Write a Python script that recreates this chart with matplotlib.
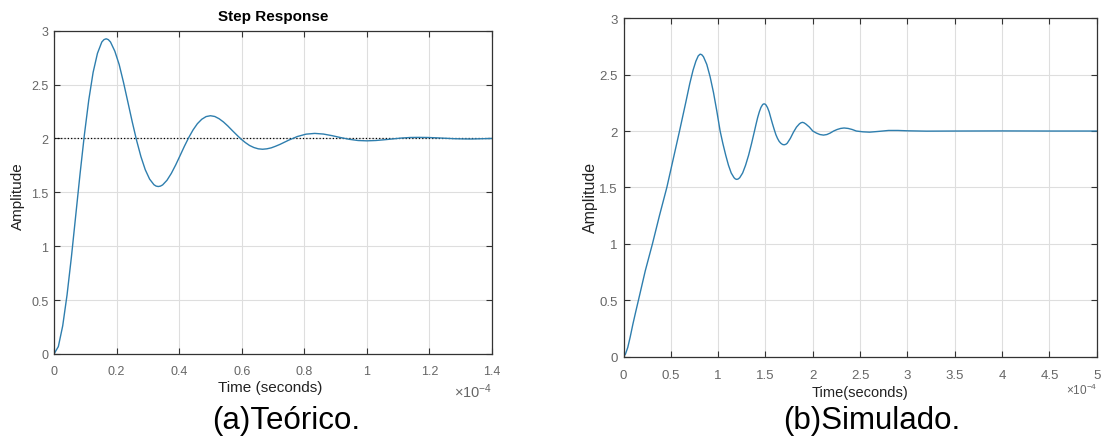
import matplotlib
matplotlib.use("Agg")
import matplotlib.pyplot as plt
from matplotlib import font_manager
from matplotlib.ticker import FuncFormatter, MultipleLocator

# time axis in units of 1e-4 s
t_theo = [0, .0139, .0278, .0417, .0556, .0694, .0833, .0972, .1111, .125,
          .1389, .1528, .1597, .1667, .1736, .1806, .1944, .2083, .2222, .2361,
          .25, .2639, .2778, .2917, .3056, .3194, .3264, .3333, .3403, .3472,
          .3611, .375, .3889, .4028, .4167, .4306, .4444, .4583, .4722, .4861,
          .5, .5139, .5278, .5417, .5556, .5694, .5833, .5972, .6111, .625,
          .6389, .6528, .6667, .6806, .6944, .7083, .7222, .75, .7778, .8056,
          .8333, .8611, .8889, .9167, .9444, .9722, 1.0, 1.0278, 1.0556, 1.0833,
          1.1111, 1.1389, 1.1667, 1.1944, 1.2222, 1.25, 1.2778, 1.3056, 1.3333,
          1.3611, 1.4]
y_theo = [0, .069, .261, .548, .899, 1.284, 1.672, 2.036, 2.356, 2.613,
          2.79, 2.895, 2.917, 2.925, 2.917, 2.895, 2.81, 2.686, 2.52, 2.338,
          2.155, 1.983, 1.832, 1.71, 1.623, 1.571, 1.558, 1.554, 1.558, 1.569,
          1.612, 1.676, 1.754, 1.84, 1.927, 2.008, 2.079, 2.137, 2.178, 2.203,
          2.211, 2.204, 2.183, 2.153, 2.116, 2.075, 2.035, 1.996, 1.963, 1.935,
          1.916, 1.904, 1.9, 1.904, 1.913, 1.928, 1.945, 1.984, 2.018, 2.04,
          2.047, 2.041, 2.026, 2.008, 1.992, 1.981, 1.978, 1.981, 1.988, 1.996,
          2.004, 2.009, 2.01, 2.009, 2.006, 2.002, 1.998, 1.996, 1.995, 1.997,
          2.0]
final_value = 2.0

t_sim = [0, .02, .045, .07, .10, .13, .158, .23, .306, .38,
         .458, .525, .592, .657, .70, .735, .765, .79, .81, .827,
         .845, .88, .915, .951, .986, 1.021, 1.05, 1.08, 1.109, 1.138,
         1.168, 1.182, 1.197, 1.212, 1.228, 1.259, 1.29, 1.322, 1.353, 1.384,
         1.401, 1.418, 1.435, 1.452, 1.469, 1.477, 1.486, 1.495, 1.504, 1.521,
         1.539, 1.557, 1.574, 1.592, 1.61, 1.627, 1.645, 1.662, 1.68, 1.697,
         1.715, 1.73, 1.763, 1.796, 1.828, 1.859, 1.875, 1.891, 1.907, 1.927,
         1.964, 2.0, 2.038, 2.075, 2.113, 2.149, 2.184, 2.22, 2.257, 2.294,
         2.331, 2.374, 2.417, 2.46, 2.53, 2.6, 2.7, 2.8, 2.9, 3.0,
         3.2, 3.5, 4.0, 4.5, 5.0]
y_sim = [0, .02, .08, .17, .29, .40, .5, .76, 1.0, 1.25,
         1.5, 1.75, 2.0, 2.25, 2.42, 2.54, 2.62, 2.667, 2.682, 2.677,
         2.659, 2.591, 2.482, 2.341, 2.177, 2.0, 1.889, 1.786, 1.697, 1.628,
         1.586, 1.575, 1.571, 1.575, 1.586, 1.628, 1.697, 1.786, 1.889, 2.0,
         2.062, 2.121, 2.17, 2.209, 2.233, 2.239, 2.241, 2.239, 2.233, 2.209,
         2.17, 2.115, 2.065, 2.015, 1.968, 1.935, 1.908, 1.892, 1.881, 1.878,
         1.882, 1.892, 1.935, 1.99, 2.035, 2.064, 2.073, 2.077, 2.073, 2.062,
         2.035, 2.0, 1.982, 1.969, 1.964, 1.969, 1.982, 2.0, 2.0135, 2.023,
         2.027, 2.023, 2.0135, 2.0, 1.993, 1.99, 1.997, 2.005, 2.005, 2.002,
         1.999, 2.0, 2.001, 2.0, 2.0]

installed = {f.name for f in font_manager.fontManager.ttflist}
base_font = "Liberation Sans"
narrow_font = "Liberation Sans Narrow" if "Liberation Sans Narrow" in installed else base_font

plt.rcParams["font.family"] = [base_font, "DejaVu Sans"]
plt.rcParams["mathtext.fontset"] = "custom"
plt.rcParams["mathtext.rm"] = base_font

W, H = 1102, 439
fig = plt.figure(figsize=(W / 100, H / 100), dpi=100)

line_col = "#2e7eae"
tick_col = "#666666"
grid_col = "#dedede"


def add_px_axes(x0, y0, x1, y1):
    return fig.add_axes([x0 / W, 1 - y1 / H, (x1 - x0) / W, (y1 - y0) / H])


def matlab_style(ax, xmax, xstep, family, size, xpad):
    ax.set_xlim(0, xmax)
    ax.set_ylim(0, 3)
    ax.xaxis.set_major_locator(MultipleLocator(xstep))
    ax.yaxis.set_major_locator(MultipleLocator(0.5))
    fmt = FuncFormatter(lambda v, p: "%g" % round(v, 3))
    ax.xaxis.set_major_formatter(fmt)
    ax.yaxis.set_major_formatter(fmt)
    ax.tick_params(direction="in", length=4, width=0.8, top=True, right=True,
                   colors="#333333", labelcolor=tick_col, labelsize=size)
    ax.tick_params(axis="x", pad=xpad)
    ax.tick_params(axis="y", pad=4)
    for lab in ax.get_xticklabels() + ax.get_yticklabels():
        lab.set_family(family)
    ax.grid(True, color=grid_col, linewidth=0.8)
    ax.set_axisbelow(True)
    for sp in ax.spines.values():
        sp.set_color("#333333")
        sp.set_linewidth(0.9)


# (a) theoretical step response
ax1 = add_px_axes(54, 31.7, 492, 355)
matlab_style(ax1, 1.4, 0.2, base_font, 9, 8)
ax1.axhline(final_value, color="k", linestyle=":", linewidth=0.9)
ax1.plot(t_theo, y_theo, color=line_col, linewidth=1.0)
fig.text(273 / W, 1 - 17 / H, "Step Response", ha="center", va="center",
         fontsize=11, fontweight="bold")
fig.text(270.5 / W, 1 - 388 / H, "Time (seconds)", ha="center", va="center",
         fontsize=11, color="#222222")
fig.text(18 / W, 1 - 196 / H, "Amplitude", ha="center", va="center",
         rotation=90, fontsize=11, color="#222222")
fig.text(492 / W, 1 - 392 / H, r"$\times\mathregular{10^{-4}}$", ha="right",
         va="center", fontsize=10.5, color=tick_col)
fig.text(286 / W, 1 - 421 / H, "(a)Teórico.", ha="center", va="center",
         fontsize=22.5)

# (b) simulated step response
ax2 = add_px_axes(623.5, 19.3, 1096.7, 357.5)
matlab_style(ax2, 5, 0.5, narrow_font, 9.5, 9)
ax2.plot(t_sim, y_sim, color=line_col, linewidth=1.0)
fig.text(860 / W, 1 - 393 / H, "Time(seconds)", ha="center", va="center",
         fontsize=10.5, family=narrow_font, color="#222222")
fig.text(590 / W, 1 - 197 / H, "Amplitude", ha="center", va="center",
         rotation=90, fontsize=11.5, family=narrow_font, color="#222222")
fig.text(1097 / W, 1 - 390 / H, r"$\times\mathregular{10^{-4}}$", ha="right",
         va="center", fontsize=8.5, color=tick_col)
fig.text(872 / W, 1 - 421 / H, "(b)Simulado.", ha="center", va="center",
         fontsize=22.5)

fig.savefig("out.png", dpi=100)
